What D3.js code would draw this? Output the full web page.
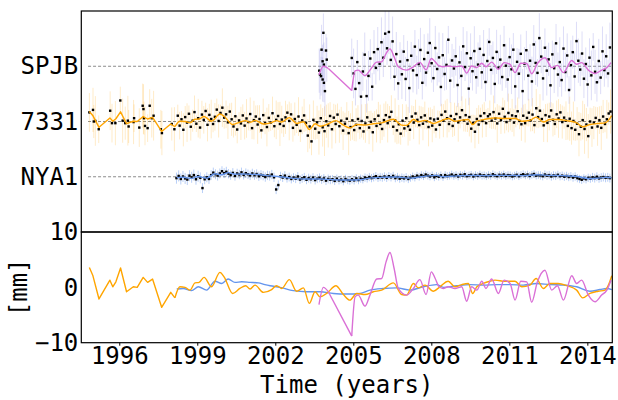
<!DOCTYPE html>
<html>
<head>
  <meta charset="utf-8">
  <title>Station time series</title>
  <script src="https://cdn.jsdelivr.net/npm/d3@7"></script>
  <style>
    body { margin: 0; background: #fff; }
    text { font-family: "DejaVu Sans Mono", monospace; fill: #000; }
  </style>
</head>
<body>
<div id="chart"></div>
<script>
// stations, their offset in the upper panel (mm) and colours
var stations = ['NYA1', '7331', 'SPJB'];
var offsets = [0, 20, 40];
var colors = ['cornflowerblue', 'orange', 'orchid'];
var barColors = ['cornflowerblue', 'orange', '#9a9ae8'];
var barOpacity = [0.45, 0.22, 0.34];
var xTicks = [1996, 1999, 2002, 2005, 2008, 2011, 2014];
var mmTicks = [-10, 0, 10];

// smoothed series (mm)
var nyaSmoothT = [1998.21, 1998.46, 1998.78, 1999.04, 1999.36, 1999.68, 1999.94, 2000.19, 2000.45, 2000.71, 2001.03, 2001.35, 2001.6, 2001.8, 2002.18, 2002.69, 2003.21, 2003.72, 2004.23, 2004.75, 2005.26, 2005.64, 2006.15, 2006.67, 2007.18, 2007.69, 2008.2, 2008.46, 2008.98, 2009.49, 2010.0, 2010.52, 2011.03, 2011.54, 2012.05, 2012.56, 2013.08, 2013.59, 2014.1, 2014.49, 2014.75, 2014.94];
var nyaSmoothV = [-0.3, -0.2, -0.6, 0.1, -0.5, 1.1, 0.7, 1.5, 0.9, 1.0, 0.9, 0.8, 0.5, 0.3, 0, -0.6, -0.8, -0.8, -1.1, -1.2, -1.1, -0.5, -0.2, -0.1, -0.5, 0.1, 0.5, 0, 0.3, 0.5, 0.4, 0.5, 0.5, 0.4, 0.7, 0.5, 0.4, 0.1, -0.7, -0.4, -0.2, -0.4];

var s7331SmoothT = [1994.85, 1994.98, 1995.22, 1995.64, 1995.75, 1995.87, 1996.05, 1996.28, 1996.54, 1996.69, 1996.92, 1997.09, 1997.28, 1997.63, 1997.98, 1998.14, 1998.33, 1998.53, 1998.72, 1998.91, 1999.07, 1999.26, 1999.55, 1999.87, 2000.03, 2000.36, 2000.64, 2000.86, 2001.03, 2001.22, 2001.54, 2001.86, 2002.05, 2002.25, 2002.54, 2002.82, 2003.08, 2003.31, 2003.53, 2003.72, 2004.0, 2004.33, 2004.62, 2004.87, 2005.13, 2005.45, 2005.77, 2006.09, 2006.54, 2006.86, 2007.05, 2007.31, 2007.5, 2007.76, 2008.08, 2008.33, 2008.65, 2008.91, 2009.17, 2009.42, 2009.59, 2009.75, 2010.0, 2010.26, 2010.45, 2010.83, 2011.22, 2011.48, 2011.79, 2012.03, 2012.31, 2012.56, 2012.88, 2013.21, 2013.59, 2013.82, 2014.1, 2014.42, 2014.68, 2014.81, 2014.94];
var s7331SmoothV = [3.6, 2.2, -2.1, 1.3, 0.1, 1.0, 3.5, -0.8, 0.1, 0, 1.8, 0.9, 1.5, -3.6, -0.9, -1.9, 0.1, 0, -0.5, 0.8, 0.9, 1.8, 0.1, 2.7, 1.9, -1.1, -0.2, 0.3, -0.3, 0.4, -0.9, -0.4, 0.3, -0.2, 1.4, -0.7, -0.1, -2.9, -0.8, -1.7, -1.0, 0.3, -1.3, -2.3, -1.1, -1.3, -0.8, -0.5, 0.8, -1.3, -1.4, 0.7, -0.1, 0.4, -0.7, 0.1, 1.1, 0.1, 0.5, 0.7, -1.1, 0.1, 0.7, 1.1, 1.3, 1.1, 1.1, 0.1, 0.4, 1.6, -0.2, 0.7, 0.7, 0.3, -0.5, -1.9, -1.1, -0.7, -0.5, 0.4, 2.1];

var spjbSmoothT = [2003.68, 2003.85, 2004.04, 2004.94, 2005.07, 2005.19, 2005.45, 2005.64, 2005.9, 2006.09, 2006.26, 2006.41, 2006.57, 2006.73, 2007.05, 2007.31, 2007.56, 2007.8, 2008.0, 2008.15, 2008.3, 2008.46, 2008.65, 2008.91, 2009.17, 2009.36, 2009.55, 2009.75, 2009.94, 2010.1, 2010.32, 2010.58, 2010.8, 2011.03, 2011.22, 2011.44, 2011.67, 2011.86, 2012.08, 2012.37, 2012.63, 2012.85, 2013.08, 2013.4, 2013.59, 2013.78, 2014.04, 2014.3, 2014.55, 2014.75, 2014.91];
var spjbSmoothV = [-3.1, 0, -0.8, -8.8, -1.7, -1.4, -3.4, -1.4, 1.5, 1.6, 4.6, 6.3, 3.4, -0.2, -1.4, -0.2, 1.4, -1.3, 2.8, 1.6, 0.1, -0.2, 0.1, -0.2, 0.1, -2.5, 0.1, -0.5, 1.1, -0.2, 1.5, -1.1, 1.3, 0.7, -2.3, 1.1, 1.0, -2.7, 1.0, 3.1, -0.5, 0.3, -2.3, 2.1, 0.7, 1.3, -1.4, -2.6, -1.4, -0.5, 1.3];

// stretches where the smoothed line is straight (sparse data / gap)
var linearSpans = [[], [[1994.8, 1998.14]], [[2004.04, 2004.94]]];

// NYA1 positions (mm), monthly from 1998.2
var nyaStart = 1998.2, nyaStep = 1 / 12;
var nyaValues = [
  -0.5, 0.3, -0.8, 0.1, -0.6, -1.0, 0.4, -0.2, 0.6, -0.9, 0.2, -0.4,
  -4.1, -0.9, -0.2, -0.8, 0.6, 1.5, 0.9, 0.4, 1.2, 2.0, 1.3, 1.8,
  1.1, 0.6, 1.4, 0.3, 1.2, 0.8, 1.6, 0.7, 1.3, 0.9, 0.5, 1.2,
  0.6, 1.0, 0.2, 0.7, 0.4, -0.1, 0.5, 0.3, 0.8, -0.2, -4.6, -3.0,
  0.2, -0.3, 0.4, -0.5, -0.1, -0.8, -0.3, -0.7, 0.1, -1.0, -0.6, -0.2,
  -1.1, -0.5, -0.9, -0.3, -1.2, -0.7, -0.4, -1.0, -0.6, -1.4, -0.8, -1.1,
  -0.9, -1.5, -0.7, -1.3, -1.0, -1.6, -0.8, -1.2, -1.4, -0.9, -1.3, -0.6,
  -1.2, -0.7, -0.9, -0.3, -0.6, -0.1, -0.5, -0.2, 0.2, -0.4, -0.1, -0.3,
  0.1, -0.4, 0.2, -0.2, 0.3, -0.5, -0.1, -0.7, -0.3, -0.6, -0.2, -0.8,
  -0.4, 0.1, -0.3, 0.4, 0.0, 0.6, 0.2, 0.8, 0.4, 0.1, 0.5, -0.2,
  0.3, 0.0, 0.5, -0.1, 0.6, 0.2, 0.4, 0.8, 0.3, 0.6, 0.1, 0.7,
  0.4, 0.9, 0.2, 0.5, 0.7, 0.1, 0.6, 0.3, 0.8, 0.4, 0.5, 0.2,
  0.6, 0.3, 0.9, 0.5, 0.2, 0.7, 0.4, 0.8, 0.3, 0.6, 0.5, 0.1,
  0.4, 0.7, 0.2, 0.6, 0.9, 0.5, 0.8, 0.3, 0.7, 1.0, 0.4, 0.6,
  0.5, 0.2, 0.8, 0.4, 0.6, 0.1, 0.5, 0.3, 0.7, 0.2, 0.4, 0.0,
  0.3, -0.1, 0.2, -0.3, 0.1, -0.5, -0.8, -1.1, -0.6, -0.9, -0.4, -0.7,
  -0.2, -0.5, 0.0, -0.6, -0.3, -0.1, -0.4, -0.2, -0.5
];
// NYA1 error (mm), one value per year
var nyaSigma = [2.0, 1.8, 1.7, 1.7, 1.6, 1.6, 1.5, 1.5, 1.5, 1.4, 1.4, 1.4, 1.4, 1.4, 1.5, 1.5, 1.6];

// 7331: sparse early epochs, then 14 per year from 1998.25
var s7331EarlyT = [1994.85, 1994.99, 1995.02, 1995.08, 1995.21, 1995.65, 1995.72, 1995.85, 1996.04, 1996.13, 1996.23, 1996.33, 1996.36, 1996.55, 1996.57, 1996.77, 1996.9, 1996.93, 1996.95, 1996.99, 1997.09, 1997.17, 1997.25, 1997.32, 1997.6, 1997.64, 1998.02, 1998.12];
var s7331EarlyV = [3.3, 4.2, 0, 0.2, -2.8, 3.9, -0.6, -0.6, 7.6, 0.3, -0.6, 0.3, -1.8, -0.2, 1.2, -2.2, 5.7, 4.5, 1.2, -1.6, -2.4, 5.7, 1.2, 2.1, -2.8, -4.2, -0.9, -2.8];
var s7331EarlySigma = '7869577' + '8586968' + '5789675' + '6797868';
var s7331Start = 1998.25, s7331Step = 1 / 14;
var s7331Values = [
  2.1, -1.5, 0.8, -3.0, 1.6, -0.4, 2.8, -1.9, 0.3, 3.4, -0.8, 1.2, -2.2, 2.5,
  0.6, 3.8, -1.2, 2.4, 0.9, -0.9, 1.7, 4.3, 0.2, 3.1, 5.0, 1.4, 2.6, -0.3,
  3.6, 0.8, -1.8, 1.9, -2.9, 0.4, -0.7, 2.2, -1.5, 1.1, -0.2, 2.7, -2.4, 0.5,
  1.8, -1.1, 0.9, -3.2, 2.3, -0.6, -2.0, 1.3, -0.4, 3.0, -1.7, 0.6, 2.0, -0.9,
  0.7, -1.6, 1.5, 3.2, 0.2, 2.6, -2.3, 0.9, -1.2, 1.8, -3.4, 0.4, 2.2, -0.5,
  -5.1, -1.8, -7.2, 0.6, -2.6, -0.3, -4.0, 1.2, -2.1, -3.5, 0.1, -1.4, 2.0, -2.8,
  1.4, -0.9, 2.5, -1.7, 0.3, -3.3, -0.8, 1.0, -4.2, -2.0, 0.4, -3.1, -1.2, 0.9,
  -2.4, 0.2, -3.6, -0.7, 1.5, -2.2, -0.1, -3.9, 0.8, -1.6, 2.1, -0.9, -2.7, 0.5,
  2.3, -0.6, 1.6, 3.5, -1.9, 0.4, -3.2, -1.0, -4.4, 0.3, -2.5, 1.2, -1.7, -3.0,
  1.8, -0.4, 2.9, 0.6, -1.3, 1.5, -0.8, 2.2, 0.1, -2.0, 1.1, -1.5, 0.7, -2.9,
  1.0, -1.2, 2.4, 0.3, 3.6, 1.2, -0.9, 2.0, -1.6, 0.8, 2.7, -0.3, 1.5, 4.1,
  0.4, 2.3, -0.8, 1.6, -2.6, -0.5, -3.7, 0.9, -1.1, 2.0, 0.2, 3.0, -0.6, 1.9,
  2.6, 0.3, 3.4, 1.1, -0.7, 2.8, 0.5, 4.6, 1.7, -0.2, 3.1, 0.8, 2.2, -0.4,
  1.9, 3.7, 0.2, -1.0, 2.1, -0.6, 1.3, 3.2, 0.4, 2.5, -1.3, 4.8, 1.6, 3.9,
  0.9, -1.4, 2.3, -0.5, 1.8, 4.0, 0.6, -0.9, 2.6, 1.1, 3.3, -0.2, 1.4, 0.3,
  -1.6, 1.0, -2.4, 0.2, -3.0, -0.8, -4.6, -1.9, 0.5, -2.7, -1.1, -5.3, 0.0, -2.2,
  -0.4, 1.3, -1.8, 0.5, -2.3, 1.8, -0.9, 0.8, 2.9, 3.6
];
var s7331Sigma = [
  '45364735463745', '53647354637456', '36475364573647', '47536475364758',
  '54637456374563', '68574685796857', '57465746857465', '46375647365746',
  '57463857463574', '46537465374653', '35464735463745', '46375364736453',
  '53647354637465', '45364735463746', '36475364573647', '58674685796857',
  '6475863748'
].join('');

// SPJB: short first run, gap, then 14 per year from 2004.94
var spjbEarlyT = [2003.69, 2003.72, 2003.76, 2003.78, 2003.82, 2003.82, 2003.85, 2003.87, 2003.87, 2003.91, 2003.95, 2003.98];
var spjbEarlyV = [-1.6, -3.0, -3.6, 6.0, 1.8, -4.8, 12.1, 0.6, -6.0, -9.0, 5.7, 2.4];
var spjbEarlySigma = '897968787968';
var spjbStart = 2004.94, spjbStep = 1 / 14;
var spjbValues = [
  3.0, -2.6, -8.2, 1.5, -6.1, -11.0, -1.9, 4.2, -10.8, -3.5, 2.8, -7.4, 5.1, -0.6,
  6.2, 0.9, 8.7, 3.1, 11.8, 6.5, 12.4, 2.3, 9.0, -3.8, 4.4, -6.2, 1.7, -2.9,
  5.3, -4.6, 2.2, -7.9, 3.8, -1.5, 7.1, -3.2, 0.8, 5.9, -6.0, 2.6, -2.3, 4.9,
  8.4, 1.1, -4.3, 6.6, -1.0, 3.2, -7.5, 4.0, -2.8, 0.5, 9.6, -5.2, 2.1, -0.8,
  3.6, -6.8, 1.4, -3.5, 7.2, -0.3, 4.7, -8.1, 2.9, -1.8, 5.5, -4.0, 0.6, 6.3,
  -2.2, 4.1, -5.7, 1.9, 8.8, -1.3, 3.0, -6.4, 5.2, -0.5, 2.4, -3.9, 7.6, 0.2,
  -4.8, 3.3, -1.1, 6.0, -7.3, 1.6, -2.7, 4.5, -9.0, 0.9, 5.8, -3.4, 2.0, -5.5,
  7.9, 1.2, -2.4, 10.2, 3.5, -4.4, 6.7, -1.6, 2.5, -6.9, 4.3, -0.7, 8.3, -3.0,
  1.5, -5.0, 6.4, -2.1, 3.9, -8.6, 0.4, 5.1, -3.7, 9.1, 2.0, -1.2, 4.6, -4.5,
  0.8, -6.6, 3.1, -3.3, 7.0, -2.0, -5.8, 1.9, -4.1, 5.4, -1.4, 3.6, -2.6, 6.8
];
var spjbSigma = [
  '79685978697586', '86979687958679', '68795867986957', '97586978695867',
  '78697586979685', '69785967869578', '87968597867969', '78596879685978',
  '96878596978687', '68795878696859'
].join('');

// points as [time, mm, sigma]
var nyaPoints = nyaValues.map(function (v, i) {
  return [nyaStart + i * nyaStep, v, nyaSigma[Math.floor(i / 12)]];
});
var s7331Points = s7331EarlyV.map(function (v, i) {
  return [s7331EarlyT[i], v, +s7331EarlySigma[i]];
}).concat(s7331Values.map(function (v, i) {
  return [s7331Start + i * s7331Step, v, +s7331Sigma[i]];
}));
var spjbPoints = spjbEarlyV.map(function (v, i) {
  return [spjbEarlyT[i], v, +spjbEarlySigma[i]];
}).concat(spjbValues.map(function (v, i) {
  return [spjbStart + i * spjbStep, v, +spjbSigma[i]];
}));

var smooth = [
  d3.zip(nyaSmoothT, nyaSmoothV),
  d3.zip(s7331SmoothT, s7331SmoothV),
  d3.zip(spjbSmoothT, spjbSmoothV)
];
var points = [nyaPoints, s7331Points, spjbPoints];

// cut a smoothed series into straight and curved runs
function splitRuns(s, spans) {
  var runs = [];
  for (var i = 1; i < s.length; i++) {
    var lin = spans.some(function (sp) { return s[i - 1][0] >= sp[0] && s[i][0] <= sp[1]; });
    var last = runs[runs.length - 1];
    if (last && last.lin === lin) last.pts.push(s[i]);
    else runs.push({ lin: lin, pts: [s[i - 1], s[i]] });
  }
  return runs;
}

var width = 618, height = 400;
var left = 81.3, right = 612.3;
var topY = 11, midY = 232, bottomY = 342.7;
var fontSize = '24px';

var x = d3.scaleLinear().domain([1994.54, 2014.96]).range([left, right]);
var yTop = d3.scaleLinear().domain([-20, 60]).range([midY, topY]);
var yBot = d3.scaleLinear().domain([-10, 10]).range([bottomY, midY]);

var svg = d3.select('#chart').append('svg')
  .attr('width', width)
  .attr('height', height);

svg.append('clipPath').attr('id', 'clipTop')
  .append('rect')
  .attr('x', left).attr('y', topY)
  .attr('width', right - left).attr('height', midY - topY);
svg.append('clipPath').attr('id', 'clipBot')
  .append('rect')
  .attr('x', left).attr('y', midY)
  .attr('width', right - left).attr('height', bottomY - midY);

// draws one smoothed series into g with the given y scale and offset
function drawSmooth(g, k, yScale, off) {
  splitRuns(smooth[k], linearSpans[k]).forEach(function (run) {
    var line = d3.line()
      .x(function (d) { return x(d[0]); })
      .y(function (d) { return yScale(d[1] + off); })
      .curve(run.lin ? d3.curveLinear : d3.curveMonotoneX);
    g.append('path')
      .datum(run.pts)
      .attr('d', line)
      .attr('fill', 'none')
      .attr('stroke', colors[k])
      .attr('stroke-width', 1.4)
      .attr('stroke-linejoin', 'round');
  });
}

// upper panel
var upper = svg.append('g').attr('clip-path', 'url(#clipTop)');

upper.selectAll('line.ref')
  .data(offsets)
  .enter()
  .append('line')
  .attr('class', 'ref')
  .attr('x1', x(1994.8))
  .attr('x2', x(2014.96))
  .attr('y1', function (d) { return yTop(d); })
  .attr('y2', function (d) { return yTop(d); })
  .attr('stroke', '#8c8c8c')
  .attr('stroke-width', 1)
  .attr('stroke-dasharray', '3,2');

points.forEach(function (pts, k) {
  var off = offsets[k];
  var g = upper.append('g');

  g.selectAll('line')
    .data(pts)
    .enter()
    .append('line')
    .attr('x1', function (d) { return x(d[0]); })
    .attr('x2', function (d) { return x(d[0]); })
    .attr('y1', function (d) { return yTop(d[1] + off - d[2]); })
    .attr('y2', function (d) { return yTop(d[1] + off + d[2]); })
    .attr('stroke', barColors[k])
    .attr('stroke-opacity', barOpacity[k])
    .attr('stroke-width', 1);

  g.selectAll('rect')
    .data(pts)
    .enter()
    .append('rect')
    .attr('x', function (d) { return x(d[0]) - 1.2; })
    .attr('y', function (d) { return yTop(d[1] + off) - 1.2; })
    .attr('width', 2.4)
    .attr('height', 2.4)
    .attr('fill', 'black');

  drawSmooth(g, k, yTop, off);
});

// lower panel
var lower = svg.append('g').attr('clip-path', 'url(#clipBot)');
smooth.forEach(function (s, k) {
  drawSmooth(lower.append('g'), k, yBot, 0);
});

// frames
svg.append('rect')
  .attr('x', left).attr('y', topY)
  .attr('width', right - left).attr('height', midY - topY)
  .attr('fill', 'none').attr('stroke', 'black').attr('stroke-width', 1.2);
svg.append('rect')
  .attr('x', left).attr('y', midY)
  .attr('width', right - left).attr('height', bottomY - midY)
  .attr('fill', 'none').attr('stroke', 'black').attr('stroke-width', 1.2);

// axes
function styleText(g) {
  g.select('.domain').remove();
  g.selectAll('text')
    .style('font-size', fontSize)
    .style('font-family', '"DejaVu Sans Mono", monospace');
}

svg.append('g')
  .attr('transform', 'translate(' + left + ',0)')
  .call(d3.axisLeft(yTop)
    .tickValues(offsets)
    .tickFormat(function (d, i) { return stations[i]; })
    .tickSize(0)
    .tickPadding(3))
  .call(styleText);

svg.append('g')
  .attr('transform', 'translate(' + left + ',0)')
  .call(d3.axisLeft(yBot)
    .tickValues(mmTicks)
    .tickFormat(d3.format('d'))
    .tickSize(0)
    .tickPadding(3))
  .call(styleText);

svg.append('g')
  .attr('transform', 'translate(0,' + bottomY + ')')
  .call(d3.axisBottom(x)
    .tickValues(xTicks)
    .tickFormat(d3.format('d'))
    .tickSize(3)
    .tickPadding(1))
  .call(styleText);

svg.append('text')
  .attr('x', (left + right) / 2)
  .attr('y', 393)
  .attr('text-anchor', 'middle')
  .style('font-size', fontSize)
  .text('Time (years)');

svg.append('text')
  .attr('transform', 'translate(27,' + yBot(0) + ') rotate(-90)')
  .attr('text-anchor', 'middle')
  .style('font-size', fontSize)
  .text('[mm]');
</script>
</body>
</html>
